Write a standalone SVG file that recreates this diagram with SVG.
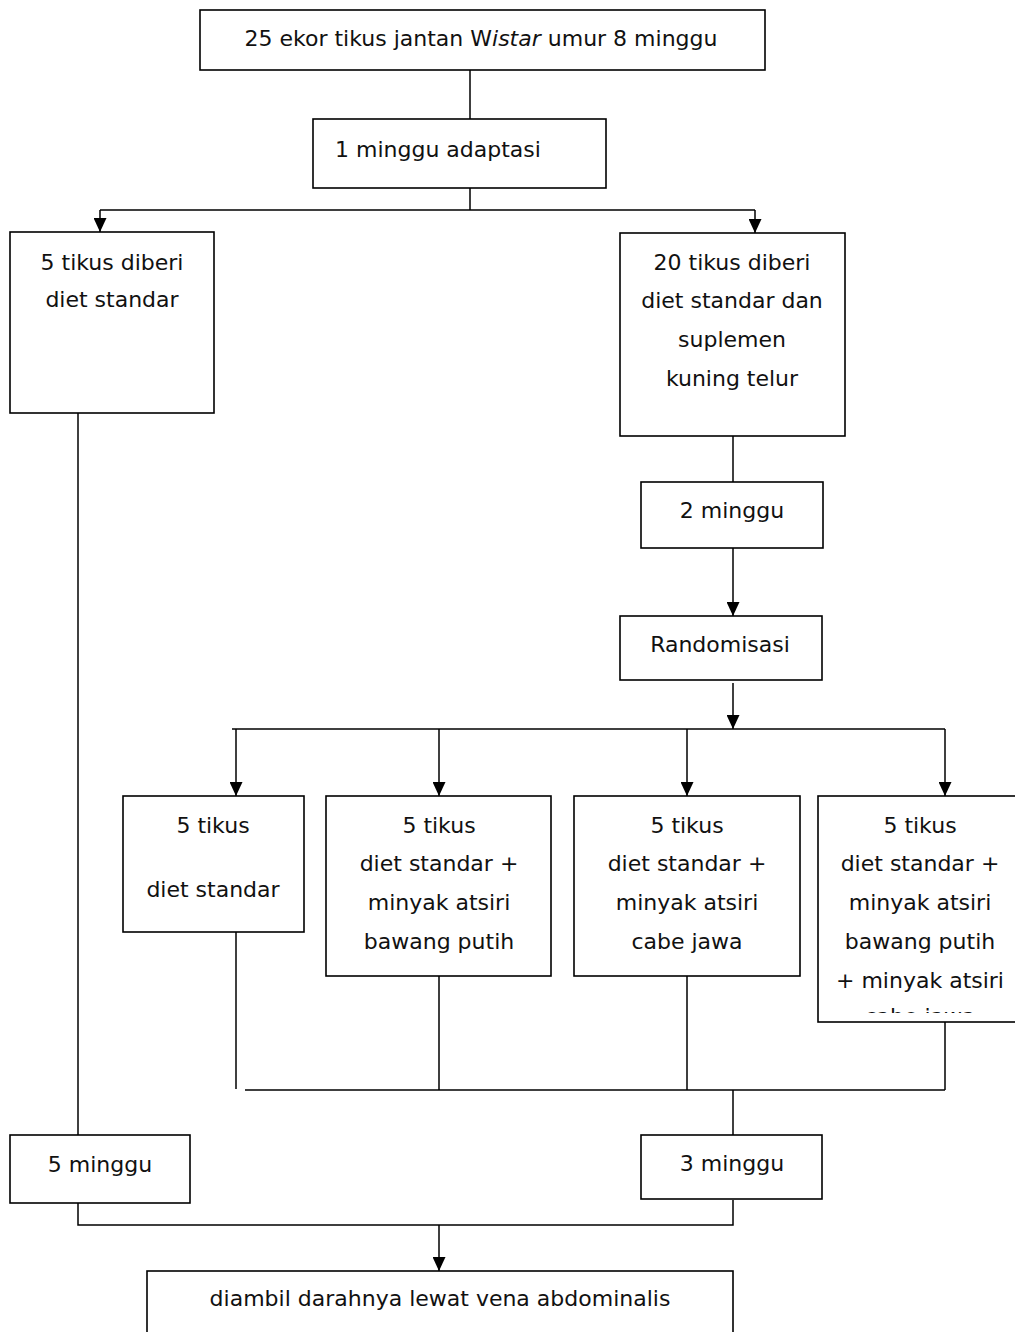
<svg xmlns="http://www.w3.org/2000/svg" width="1015" height="1332" viewBox="0 0 1015 1332">
<style>
.box{fill:#fff;stroke:#000;stroke-width:1.6}
.ln{fill:none;stroke:#000;stroke-width:1.5}
text{font-family:"DejaVu Sans","Liberation Sans",sans-serif;font-size:22px;fill:#111}
.c{text-anchor:middle}
</style>
<defs>
<marker id="ah" markerWidth="13" markerHeight="14" refX="6.5" refY="14" orient="0" markerUnits="userSpaceOnUse">
<path d="M0,0 L13,0 L6.5,14 Z" fill="#000"/>
</marker>
<clipPath id="clip4"><rect x="818" y="796" width="197" height="217"/></clipPath>
</defs>
<rect width="1015" height="1332" fill="#fff"/>
<g id="connectors">
<path class="ln" d="M470,70 V120"/>
<path class="ln" d="M470,188 V210 M100,210 H755"/>
<path class="ln" d="M100,210 V232" marker-end="url(#ah)"/>
<path class="ln" d="M755,210 V233" marker-end="url(#ah)"/>
<path class="ln" d="M78,413 V1135"/>
<path class="ln" d="M733,436 V482"/>
<path class="ln" d="M733,548 V616" marker-end="url(#ah)"/>
<path class="ln" d="M733,683 V729" marker-end="url(#ah)"/>
<path class="ln" d="M232,729 H945"/>
<path class="ln" d="M236,729 V796" marker-end="url(#ah)"/>
<path class="ln" d="M439,729 V796" marker-end="url(#ah)"/>
<path class="ln" d="M687,729 V796" marker-end="url(#ah)"/>
<path class="ln" d="M945,729 V796" marker-end="url(#ah)"/>
<path class="ln" d="M236,932 V1089"/>
<path class="ln" d="M245,1090 H945"/>
<path class="ln" d="M439,976 V1090 M687,976 V1090 M945,1022 V1090"/>
<path class="ln" d="M733,1090 V1135"/>
<path class="ln" d="M78,1203 V1225 H733 V1200"/>
<path class="ln" d="M439,1225 V1271" marker-end="url(#ah)"/>
</g>
<g id="n-top">
<rect class="box" x="200" y="10" width="565" height="60"/>
<text x="481" y="46" class="c">25 ekor tikus jantan W<tspan font-style="italic">istar</tspan> umur 8 minggu</text>
</g>
<g id="n-adaptasi">
<rect class="box" x="313" y="119" width="293" height="69"/>
<text x="335" y="157">1 minggu adaptasi</text>
</g>
<g id="n-left">
<rect class="box" x="10" y="232" width="204" height="181"/>
<text x="112" y="270" class="c">5 tikus diberi</text>
<text x="112" y="307" class="c">diet standar</text>
</g>
<g id="n-right">
<rect class="box" x="620" y="233" width="225" height="203"/>
<text x="732" y="270" class="c">20 tikus diberi</text>
<text x="732" y="308" class="c">diet standar dan</text>
<text x="732" y="347" class="c">suplemen</text>
<text x="732" y="386" class="c">kuning telur</text>
</g>
<g id="n-2minggu">
<rect class="box" x="641" y="482" width="182" height="66"/>
<text x="732" y="518" class="c">2 minggu</text>
</g>
<g id="n-random">
<rect class="box" x="620" y="616" width="202" height="64"/>
<text x="720" y="652" class="c">Randomisasi</text>
</g>
<g id="n-g1">
<rect class="box" x="123" y="796" width="181" height="136"/>
<text x="213" y="833" class="c">5 tikus</text>
<text x="213" y="897" class="c">diet standar</text>
</g>
<g id="n-g2">
<rect class="box" x="326" y="796" width="225" height="180"/>
<text x="439" y="833" class="c">5 tikus</text>
<text x="439" y="871" class="c">diet standar +</text>
<text x="439" y="910" class="c">minyak atsiri</text>
<text x="439" y="949" class="c">bawang putih</text>
</g>
<g id="n-g3">
<rect class="box" x="574" y="796" width="226" height="180"/>
<text x="687" y="833" class="c">5 tikus</text>
<text x="687" y="871" class="c">diet standar +</text>
<text x="687" y="910" class="c">minyak atsiri</text>
<text x="687" y="949" class="c">cabe jawa</text>
</g>
<g id="n-g4">
<rect class="box" x="818" y="796" width="200" height="226"/>
<g clip-path="url(#clip4)">
<text x="920" y="833" class="c">5 tikus</text>
<text x="920" y="871" class="c">diet standar +</text>
<text x="920" y="910" class="c">minyak atsiri</text>
<text x="920" y="949" class="c">bawang putih</text>
<text x="920" y="988" class="c">+ minyak atsiri</text>
<text x="920" y="1024" class="c">cabe jawa</text>
</g>
</g>
<g id="n-5minggu">
<rect class="box" x="10" y="1135" width="180" height="68"/>
<text x="100" y="1172" class="c">5 minggu</text>
</g>
<g id="n-3minggu">
<rect class="box" x="641" y="1135" width="181" height="64"/>
<text x="732" y="1171" class="c">3 minggu</text>
</g>
<g id="n-bottom">
<rect class="box" x="147" y="1271" width="586" height="70"/>
<text x="440" y="1306" class="c">diambil darahnya lewat vena abdominalis</text>
</g>
</svg>
